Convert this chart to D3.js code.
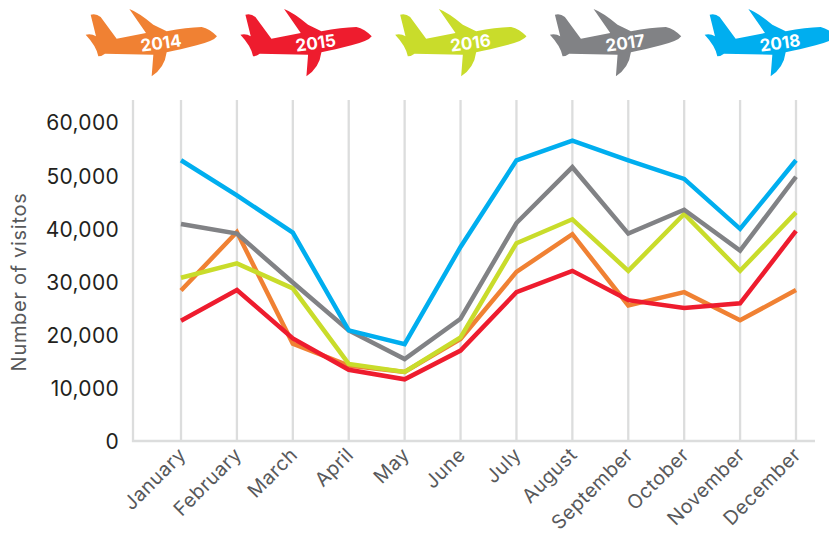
<!DOCTYPE html>
<html>
<head>
<meta charset="utf-8">
<script src="https://cdn.jsdelivr.net/npm/d3@7"></script>
<style>
body { margin: 0; background: #fff; }
text { font-family: "Inter", sans-serif; }
</style>
</head>
<body>
<div id="chart"></div>
<script>
const months = ["January", "February", "March", "April", "May", "June", "July", "August", "September", "October", "November", "December"];
const years = ["2014", "2015", "2016", "2017", "2018"];
const colors = ["#f08133", "#ee1c2e", "#c9dc2b", "#818285", "#00aeef"];
const yTicks = [0, 10000, 20000, 30000, 40000, 50000, 60000];

const v2014 = [28300, 39300, 18300, 14200, 13000, 19200, 31800, 38900, 25500, 28000, 22700, 28400];
const v2015 = [22600, 28400, 19300, 13400, 11600, 17000, 28000, 32000, 26500, 25000, 25900, 39500];
const v2016 = [30700, 33400, 28700, 14500, 13000, 19500, 37200, 41700, 32000, 42700, 32000, 43000];
const v2017 = [40800, 39000, 29800, 20800, 15400, 23000, 41000, 51500, 39000, 43500, 35800, 49700];
const v2018 = [52800, 46200, 39200, 20800, 18200, 36500, 52800, 56500, 52800, 49300, 39900, 52800];
const series = [v2014, v2016, v2017, v2018, v2015];
const seriesColors = [colors[0], colors[2], colors[3], colors[4], colors[1]];

const svg = d3.select("#chart").append("svg")
    .attr("width", 829)
    .attr("height", 533)
    .style("display", "block");

const x = d3.scalePoint().domain(months).range([181, 796]);
const y = d3.scaleLinear().domain([0, 60000]).range([441, 122]);

// grid
svg.append("g").selectAll("line")
    .data(months)
    .enter().append("line")
    .attr("x1", d => x(d))
    .attr("x2", d => x(d))
    .attr("y1", 100)
    .attr("y2", 441)
    .attr("stroke", "#dcdddd")
    .attr("stroke-width", 2.3);

svg.append("path")
    .attr("d", "M133,100V441H815")
    .attr("fill", "none")
    .attr("stroke", "#dcdddd")
    .attr("stroke-width", 2.3);

// y labels
svg.append("g").selectAll("text")
    .data(yTicks)
    .enter().append("text")
    .attr("x", 119)
    .attr("y", d => y(d) + 1)
    .attr("dy", "0.35em")
    .attr("text-anchor", "end")
    .attr("font-size", 21)
    .attr("letter-spacing", 0.3)
    .attr("fill", "#231f20")
    .text(d => d3.format(",")(d));

svg.append("text")
    .attr("transform", "translate(26,282) rotate(-90)")
    .attr("text-anchor", "middle")
    .attr("font-size", 20)
    .attr("letter-spacing", 0.7)
    .attr("fill", "#58595b")
    .text("Number of visitos");

// x labels
svg.append("g").selectAll("text")
    .data(months)
    .enter().append("text")
    .attr("transform", d => "translate(" + (x(d) + 6) + ",456) rotate(-45)")
    .attr("text-anchor", "end")
    .attr("font-size", 19.5)
    .attr("letter-spacing", 0.5)
    .attr("fill", "#58595b")
    .text(d => d);

// lines
const line = d3.line()
    .x((d, i) => x(months[i]))
    .y(d => y(d));

svg.append("g").selectAll("path")
    .data(series)
    .enter().append("path")
    .attr("d", line)
    .attr("fill", "none")
    .attr("stroke", (d, i) => seriesColors[i])
    .attr("stroke-width", 4.5)
    .attr("stroke-linejoin", "miter");

// legend planes
const planePath = "M17,20Q33,15 47,27L95,92L183,75L133,3Q160,13 205,50L245,70Q305,58 350,57Q375,63 396,85Q387,99 335,112Q285,125 245,133Q239,180 200,205L205,140L60,137Q50,145 40,145Q35,115 2,80Q20,76 33,85Z";
const planeX = d3.scalePoint().domain(years).range([85, 704]);

const plane = svg.append("g").selectAll("g")
    .data(years)
    .enter().append("g")
    .attr("transform", d => "translate(" + planeX(d) + ",8)");

plane.append("path")
    .attr("transform", "scale(0.3333)")
    .attr("d", planePath)
    .attr("fill", (d, i) => colors[i]);

plane.append("text")
    .attr("transform", "translate(76,35) rotate(-8)")
    .attr("dy", "0.35em")
    .attr("text-anchor", "middle")
    .attr("font-size", 17)
    .attr("font-weight", 700)
    .attr("fill", "#fff")
    .text(d => d);
</script>
</body>
</html>
